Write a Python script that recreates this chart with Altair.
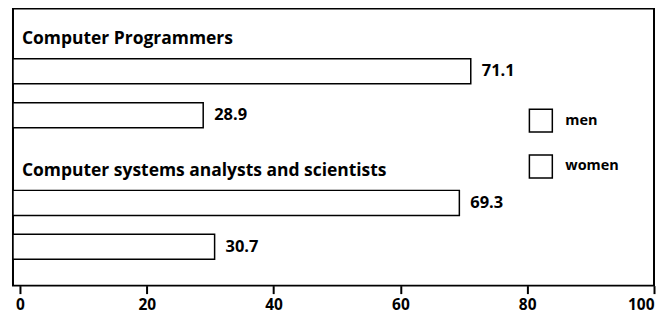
import altair as alt
import pandas as pd

occupations = ["Computer Programmers", "Computer systems analysts and scientists"]
men = [71.1, 69.3]
women = [28.9, 30.7]
sexes = ["men", "women"]
x_ticks = [0, 20, 40, 60, 80, 100]

rows = []
for o, m, w in zip(occupations, men, women):
    rows.append({"occupation": o, "sex": "men", "pct": m, "row": f"{o}|men"})
    rows.append({"occupation": o, "sex": "women", "pct": w, "row": f"{o}|women"})
df = pd.DataFrame(rows)
row_order = [f"{occupations[0]}|men", f"{occupations[0]}|women", "gap",
             f"{occupations[1]}|men", f"{occupations[1]}|women"]
titles = pd.DataFrame({"occupation": occupations,
                       "row": [f"{o}|men" for o in occupations]})

FONT = "Open Sans"
y_scale = alt.Scale(domain=row_order, range=[41, 261], paddingInner=0.43, paddingOuter=0.215)
x_scale = alt.Scale(domain=[-1.1, 100], nice=False, zero=False)

base = alt.Chart(df)
bars = base.mark_bar(fill="white", strokeWidth=1.5).encode(
    x=alt.X("pct:Q", scale=x_scale, title=None, stack=None,
            axis=alt.Axis(values=x_ticks, domain=False, grid=False, tickSize=8, tickWidth=2,
                          tickColor="black", labelFont=FONT, labelFontSize=15.5,
                          labelFontWeight="bold", labelColor="black", labelPadding=4,
                          labelFlush=True)),
    x2=alt.value(0),
    y=alt.Y("row:N", scale=y_scale, axis=None),
    stroke=alt.Stroke("sex:N", scale=alt.Scale(domain=sexes, range=["black", "black"]),
                      legend=alt.Legend(orient="none", legendX=517, legendY=100, title=None,
                                        symbolType="square", symbolSize=529,
                                        symbolFillColor="white", symbolStrokeWidth=1.5,
                                        labelFont=FONT, labelFontSize=14.5, labelFontWeight="bold",
                                        labelColor="black", labelOffset=12, rowPadding=17,
                                        padding=0)),
)

labels = base.mark_text(align="left", baseline="middle", dx=11, font=FONT, fontSize=16.5,
                        fontWeight="bold", color="black").encode(
    x=alt.X("pct:Q", scale=x_scale),
    y=alt.Y("row:N", scale=y_scale),
    text=alt.Text("pct:Q", format=".1f"),
)

title_text = alt.Chart(titles).mark_text(align="left", baseline="middle", dy=-32, font=FONT,
                                         fontSize=17.5, fontWeight="bold", color="black").encode(
    x=alt.value(9),
    y=alt.Y("row:N", scale=y_scale),
    text="occupation:N",
)

chart = alt.layer(bars, labels, title_text).properties(
    width=643, height=278,
    padding={"left": 4, "top": 0, "right": 1, "bottom": 5},
    background="white",
).configure_view(stroke="black", strokeWidth=2)

chart.save("out.html", embed_options={"renderer": "svg", "actions": False})
